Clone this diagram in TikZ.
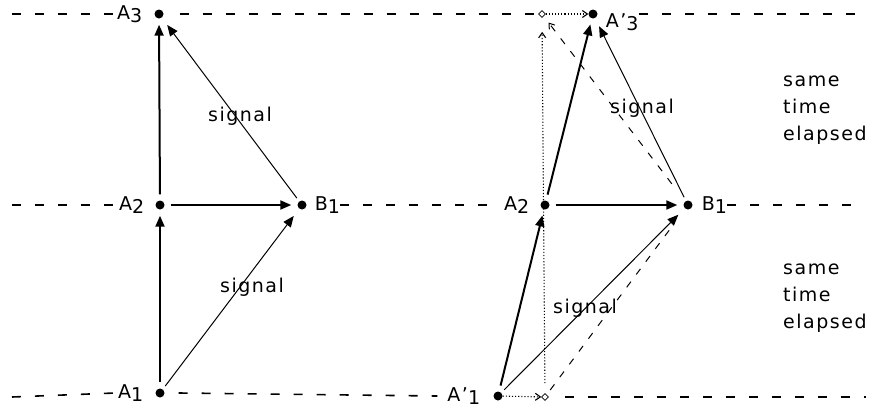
\documentclass[tikz,border=0pt]{standalone}
\usepackage{fontspec}
\setmainfont[LetterSpace=8]{DejaVu Sans}
\usetikzlibrary{arrows.meta, shapes.geometric, positioning}
\newcommand\ix[2]{#1\raisebox{-0.3ex}{#2}}

\begin{document}
\begin{tikzpicture}[
  x=1pt, y=-1pt,
  every node/.style={font=\fontsize{19}{27}\selectfont, inner sep=0pt},
  dot/.style={circle, fill, minimum size=9pt},
  ghost/.style={diamond, draw, line width=0.7pt, minimum size=7pt},
  axis/.style={dash pattern=on 9pt off 14pt, line width=1.6pt},
  move/.style={line width=2pt, -{Triangle[length=11pt,width=9pt]}, shorten <=6pt, shorten >=6pt},
  signal/.style={line width=1pt, -{Triangle[length=11pt,width=9pt]}, shorten <=4pt, shorten >=9pt},
  rest/.style={dash pattern=on 7pt off 9pt, line width=1pt},
  drift/.style={dotted, line width=1.1pt, -{Straight Barb[length=5pt,width=7pt]}}
]
\useasboundingbox (0,0) rectangle (873,410);

\node[dot] (A3) at (159,14) {};
\node[dot] (A2) at (160,205) {};
\node[dot] (A1) at (160,393) {};
\node[dot] (B1) at (302,205) {};
\node[dot] (C3) at (593,14) {};
\node[dot] (C2) at (545,205) {};
\node[dot] (C1) at (498,396) {};
\node[dot] (D1) at (688,205) {};
\node[ghost] (G3) at (542,14) {};
\node[ghost] (G1) at (545,397) {};

\node[left=12pt of A3] (tA3) {\ix{A}{3}};
\node[left=11pt of A2] (tA2) {\ix{A}{2}};
\node[left=12pt of A1] (tA1) {\ix{A}{1}};
\node[right=8pt of B1] (tB1) {\ix{B}{1}};
\node[right=8pt of C3, yshift=-8pt] (tC3) {\ix{A'}{3}};
\node[left=11pt of C2] (tC2) {\ix{A}{2}};
\node[left=13pt of C1] (tC1) {\ix{A'}{1}};
\node[right=9pt of D1] (tD1) {\ix{B}{1}};

\coordinate (L3) at (12,14);
\coordinate (L2) at (12,205);
\coordinate (L1) at (12,397);
\coordinate (R3) at (862,14);
\coordinate (R2) at (858,205);
\coordinate (R1) at (866,397);

\draw[axis] (L3) -- ([xshift=-3pt]tA3.west);
\draw[axis] ([xshift=16pt]A3.east) -- ([xshift=-3pt]G3.west);
\draw[axis] (tC3.east |- C3) -- (R3);
\draw[axis] (L2) -- ([xshift=-3pt]tA2.west);
\draw[axis] (tB1.east) -- ([xshift=-3pt]tC2.west);
\draw[axis] (tD1.east) -- (R2);
\draw[axis] (L1) -- ([xshift=-3pt]tA1.west);
\draw[axis] ([xshift=14pt]A1.east) -- ([xshift=-10pt]tC1.west);
\draw[axis] ([xshift=16pt]G1.east) -- (R1);

\draw[move] (A1) -- (A2);
\draw[move] (A2) -- (A3);
\draw[move] (A2) -- (B1);
\draw[signal] (A1) -- (B1);
\draw[signal] (B1) -- (A3);
\node (sigA) at (240,116) {signal};
\node (sigB) at (252,287) {signal};

\draw[drift] (C1) -- (G1);
\draw[drift] (G3) -- (C3);
\draw[drift, shorten <=10pt, shorten >=14pt] (G1) -- (G3);
\draw[rest, shorten <=6pt, shorten >=24pt] (G1) -- (D1);
\draw[rest, -{Straight Barb[length=5pt,width=7pt]}, shorten <=22pt, shorten >=8pt] (D1) -- (G3);
\draw[move] (C1) -- (C2);
\draw[move] (C2) -- (C3);
\draw[move] (C2) -- (D1);
\draw[signal] (C1) -- (D1);
\draw[signal] (D1) -- (C3);
\node (sigC) at (642,108) {signal};
\node (sigD) at (585,308) {signal};

\node[align=left, anchor=west] (timeA) at (783,110) {same\\time\\elapsed};
\node[align=left, anchor=west] (timeB) at (783,298) {same\\time\\elapsed};
\end{tikzpicture}
\end{document}
